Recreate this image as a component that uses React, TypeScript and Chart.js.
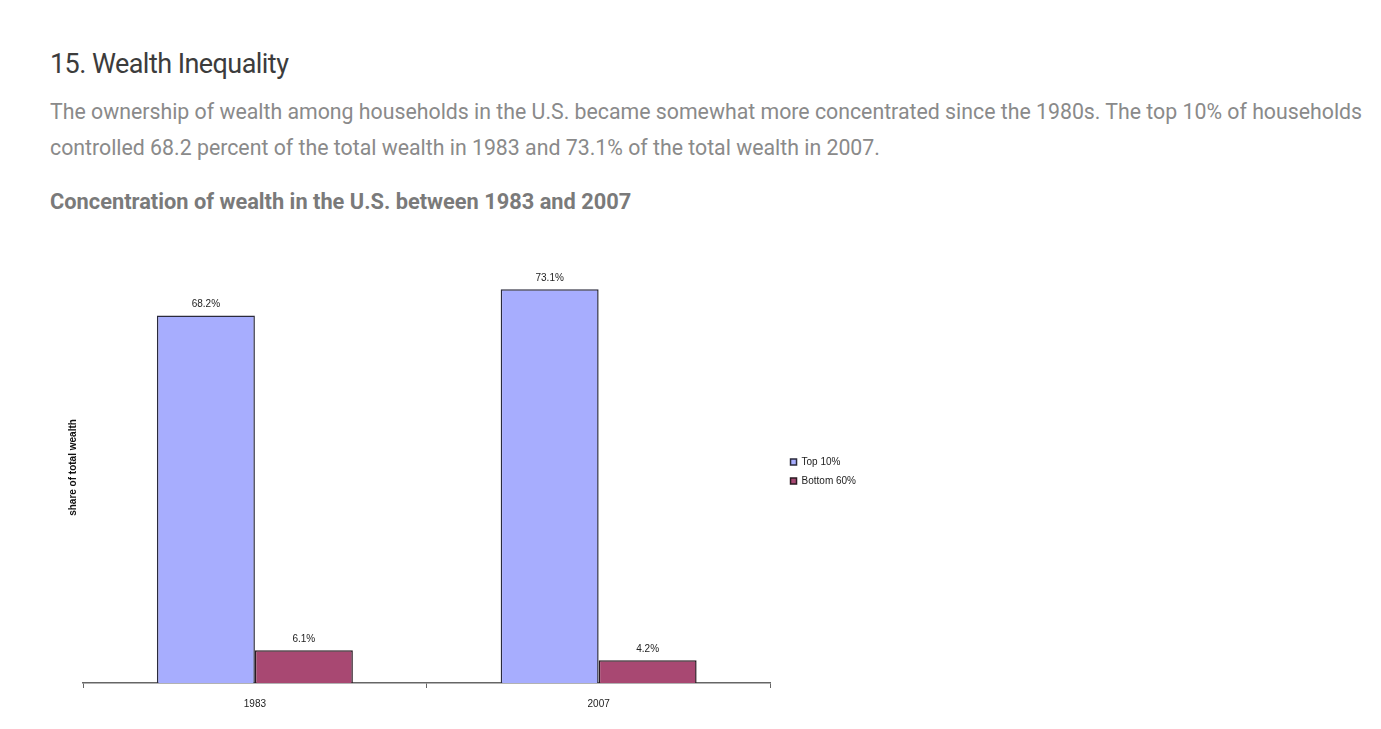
import React, { useEffect, useRef } from "react";
import { Chart, registerables } from "chart.js";

Chart.register(...registerables);

const categories = ["1983", "2007"];
const top10 = [68.2, 73.1];
const bottom60 = [6.1, 4.2];
const seriesNames = ["Top 10%", "Bottom 60%"];
const yAxisTitle = "share of total wealth";

const valueLabels = {
  id: "valueLabels",
  afterDatasetsDraw(chart: any) {
    const ctx = chart.ctx;
    ctx.save();
    ctx.font = "10px 'Liberation Sans', Arial, sans-serif";
    ctx.fillStyle = "#222";
    ctx.textAlign = "center";
    ctx.textBaseline = "bottom";
    chart.data.datasets.forEach((ds: any, i: number) => {
      const meta = chart.getDatasetMeta(i);
      meta.data.forEach((bar: any, j: number) => {
        ctx.fillText(ds.data[j].toFixed(1) + "%", bar.x, bar.y - 6);
      });
    });
    ctx.restore();
  },
};

export default function App() {
  const ref = useRef<HTMLCanvasElement>(null);
  useEffect(() => {
    const chart = new Chart(ref.current!, {
      type: "bar",
      data: {
        labels: categories,
        datasets: [
          {
            label: seriesNames[0],
            data: top10,
            backgroundColor: "#A7ADFE",
            borderColor: "#2a2a3c",
            borderWidth: 1.5,
          },
          {
            label: seriesNames[1],
            data: bottom60,
            backgroundColor: "#A84872",
            borderColor: "#2a1a22",
            borderWidth: 1.5,
          },
        ],
      },
      options: {
        animation: false,
        responsive: false,
        maintainAspectRatio: false,
        layout: { padding: { left: 13, top: 12, bottom: 10, right: 14 } },
        datasets: { bar: { categoryPercentage: 0.57, barPercentage: 1.0 } },
        plugins: {
          legend: {
            position: "right",
            fullSize: false,
            title: {
              display: true,
              text: " ",
              padding: { top: 1, bottom: 1 },
              font: { size: 5 },
            },
            labels: {
              boxWidth: 6,
              boxHeight: 6,
              padding: 9,
              color: "#222",
              font: { size: 10, family: "'Liberation Sans', Arial, sans-serif" },
            },
          },
          tooltip: { enabled: false },
        },
        scales: {
          x: {
            grid: {
              display: true,
              drawOnChartArea: false,
              drawTicks: true,
              tickLength: 5,
              color: "#666",
            },
            border: { display: true, color: "#666", width: 1.5 },
            ticks: {
              padding: 10,
              color: "#222",
              font: { size: 10, family: "'Liberation Sans', Arial, sans-serif" },
            },
          },
          y: {
            min: 0,
            max: 80,
            grid: { display: false },
            border: { display: false },
            ticks: { display: false },
            afterFit: (s: any) => {
              s.width = 20;
            },
            title: {
              display: true,
              text: yAxisTitle,
              color: "#111",
              padding: { top: 4, bottom: 4 },
              font: { size: 10, weight: "bold", family: "'Liberation Sans', Arial, sans-serif" },
            },
          },
          spacer: {
            type: "linear",
            position: "right",
            display: true,
            grid: { display: false },
            border: { display: false },
            ticks: { display: false },
            afterFit: (s: any) => {
              s.width = 11;
            },
          },
        },
      },
      plugins: [valueLabels],
    });
    return () => chart.destroy();
  }, []);

  const font = "Roboto, sans-serif";
  return (
    <div style={{ position: "relative", width: 1365, height: 713 }}>
      <div
        style={{
          position: "absolute",
          left: 42,
          top: 40,
          fontFamily: font,
          fontSize: 27,
          letterSpacing: "-0.55px",
          lineHeight: "32px",
          color: "#3c3c3c",
          whiteSpace: "nowrap",
        }}
      >
        15. Wealth Inequality
      </div>
      <div
        style={{
          position: "absolute",
          left: 42,
          top: 86,
          fontFamily: font,
          fontSize: 21.3,
          lineHeight: "36px",
          color: "#8a8a8a",
          whiteSpace: "nowrap",
        }}
      >
        The ownership of wealth among households in the U.S. became somewhat more concentrated since the 1980s. The top 10% of households
        <br />
        controlled 68.2 percent of the total wealth in 1983 and 73.1% of the total wealth in 2007.
      </div>
      <div
        style={{
          position: "absolute",
          left: 42,
          top: 182,
          fontFamily: font,
          fontSize: 21.8,
          fontWeight: "bold",
          lineHeight: "24px",
          color: "#7a7a7a",
          whiteSpace: "nowrap",
        }}
      >
        Concentration of wealth in the U.S. between 1983 and 2007
      </div>
      <canvas
        ref={ref}
        width={830}
        height={490}
        style={{ position: "absolute", left: 42, top: 232, width: 830, height: 490 }}
      />
    </div>
  );
}
